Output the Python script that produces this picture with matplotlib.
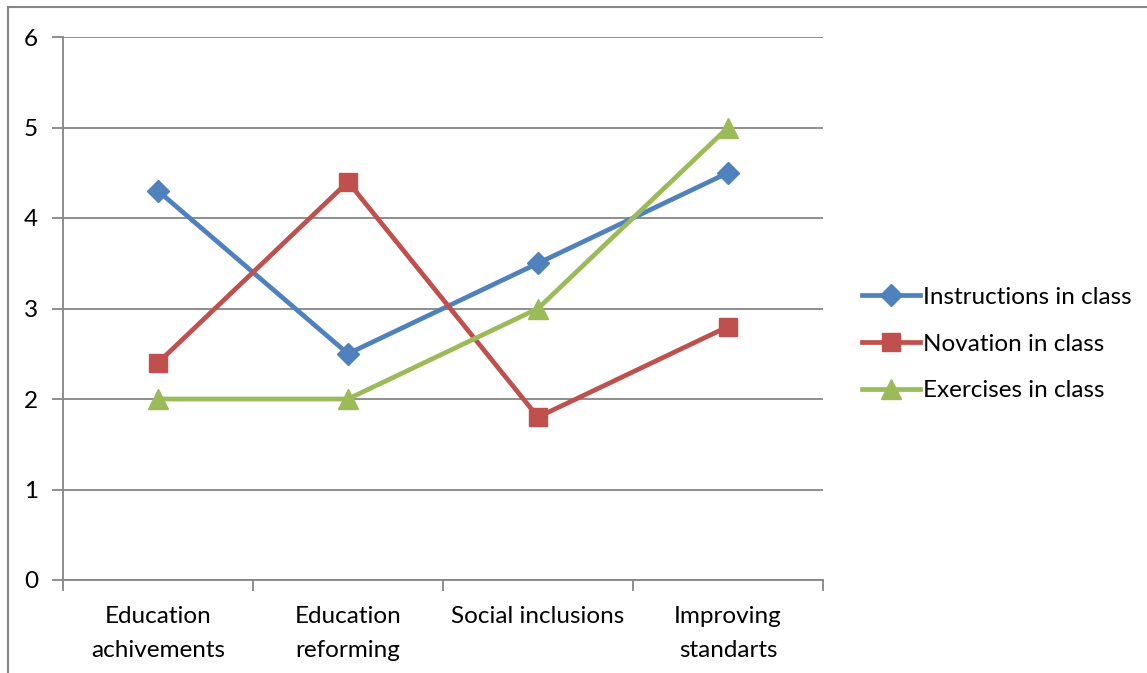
import numpy as np
import matplotlib.pyplot as plt
from matplotlib.lines import Line2D

categories = ['Education\nachivements', 'Education\nreforming', 'Social inclusions', 'Improving\nstandarts']
instructions = [4.3, 2.5, 3.5, 4.5]
novation = [2.4, 4.4, 1.8, 2.8]
exercises = [2.0, 2.0, 3.0, 5.0]
series_names = ['Instructions in class', 'Novation in class', 'Exercises in class']

plt.rcParams['font.family'] = ['Lato', 'DejaVu Sans']
fs = 17.5

fig = plt.figure(figsize=(11.47, 6.73), dpi=100)
ax = fig.add_axes([63/1147, 1-580/673, (823-63)/1147, (580-37)/673])

x = np.arange(len(categories))
ax.plot(x, instructions, color='#4F81BD', lw=3.4, marker='D', ms=11, label=series_names[0], zorder=3)
ax.plot(x, novation, color='#C0504D', lw=3.4, marker='s', ms=13.5, label=series_names[1], zorder=3)
ax.plot(x, exercises, color='#9BBB59', lw=3.4, marker='^', ms=14, label=series_names[2], zorder=3)

ax.set_xlim(-0.5, len(categories)-0.5)
ax.set_ylim(0, 6)
ax.set_yticks(range(7))
ax.grid(axis='y', color='#868686', lw=1.3)
ax.set_axisbelow(True)

ax.set_xticks(np.arange(-0.5, len(categories), 1.0))
ax.set_xticklabels([])
ax.set_xticks(x, minor=True)
ax.set_xticklabels(categories, minor=True, fontsize=fs, linespacing=1.75)
ax.tick_params(axis='x', which='minor', length=0, pad=19)
ax.tick_params(axis='x', which='major', length=8, width=1.3, color='#868686')
ax.tick_params(axis='y', length=8, width=1.3, color='#868686', labelsize=fs, pad=10)

for side in ['top', 'right']:
    ax.spines[side].set_visible(False)
for side in ['left', 'bottom']:
    ax.spines[side].set_color('#868686')
    ax.spines[side].set_linewidth(1.3)

ax.legend(loc='center left', bbox_to_anchor=(840/1147, 1-344/673), bbox_transform=fig.transFigure,
          frameon=False, fontsize=fs, handlelength=2.4, handletextpad=0.1, labelspacing=1.06)

# chart area border (only left and top visible in the crop)
fig.add_artist(Line2D([8/1147, 8/1147], [0, 1-7/673], transform=fig.transFigure, color='#868686', lw=1.5))
fig.add_artist(Line2D([8/1147, 1], [1-7/673, 1-7/673], transform=fig.transFigure, color='#868686', lw=1.5))

fig.savefig('out.png', dpi=100)
